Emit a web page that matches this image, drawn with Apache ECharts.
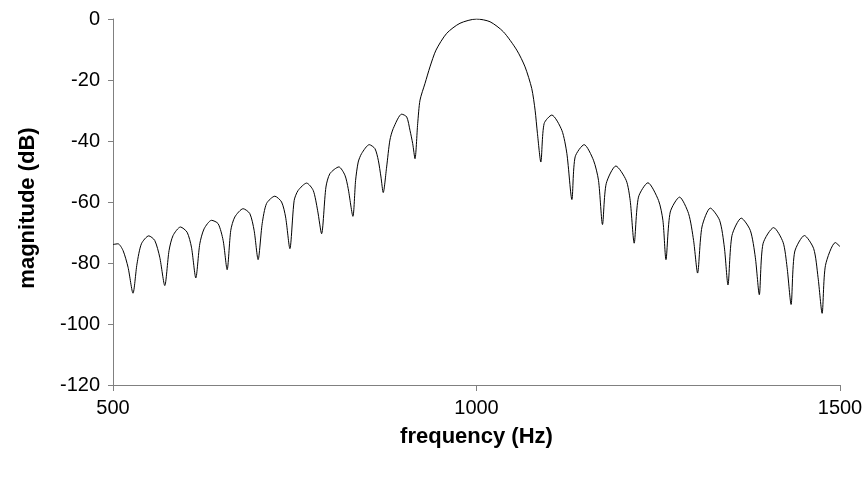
<!DOCTYPE html>
<html>
<head>
<meta charset="utf-8">
<script src="https://cdn.jsdelivr.net/npm/echarts@6/dist/echarts.min.js"></script>
<style>
html,body{margin:0;padding:0;background:#fff;}
#chart{width:867px;height:479px;}
</style>
</head>
<body>
<div id="chart"></div>
<script>
// Frequency (Hz) and magnitude (dB)
var frequency = [
  500, 501, 506.9, 513.8, 520.7, 527.5, 533, 539.1, 549.2, 557.4, 564.3, 571.2,
  577.1, 582.6, 592.8, 601.9, 607.9, 613.9, 619.4, 625.3, 635.5, 644.6, 651.5, 657,
  662, 667.6, 679, 688.2, 694.1, 699.6, 705.2, 711.2, 722.6, 731.9, 737.4, 743.3,
  749.2, 754.7, 766.3, 775.4, 781.4, 786.9, 792.9, 798.4, 810.7, 819, 823.5, 830,
  833.7, 837.3, 842, 852.5, 860.3, 864.9, 868.6, 871.7, 876.4, 880.9, 885.5, 897.1,
  904, 908.5, 912.2, 915.4, 919.1, 922.3, 929.2, 936, 944.3, 959, 977.3, 1000,
  1018.6, 1037, 1055.4, 1066.8, 1076, 1080.6, 1083.8, 1088.5, 1093, 1103.6, 1117.4, 1124.3,
  1131.2, 1135.7, 1148.1, 1160.9, 1167.8, 1173.3, 1178.4, 1191.7, 1205.9, 1211.4, 1216.9, 1222.8,
  1235.8, 1250.4, 1256.4, 1260.6, 1266.5, 1279.3, 1291.7, 1298.6, 1304.1, 1310.1, 1321.6, 1334.4,
  1340.9, 1345.9, 1351.4, 1364.2, 1376.6, 1383.5, 1389, 1394.1, 1408.7, 1421.7, 1427.2, 1432.7,
  1437.6, 1451, 1463.8, 1469.8, 1475.4, 1480, 1493.6, 1500
];
var magnitude = [
  -74.0, -73.9, -73.7, -75.9, -81.4, -89.9, -80.3, -73.7, -71.1, -72.6, -78.1, -87.4,
  -75.9, -71.0, -68.2, -69.9, -74.8, -84.9, -73.7, -68.8, -66.0, -67.1, -72.6, -82.2,
  -69.3, -64.9, -62.2, -63.8, -69.3, -78.9, -67.1, -60.5, -58.1, -60.0, -64.9, -75.3,
  -59.5, -56.2, -53.8, -56.2, -62.7, -70.4, -55.1, -50.7, -48.5, -51.2, -55.6, -64.7,
  -52.9, -46.9, -44.1, -41.2, -42.5, -46.3, -51.8, -56.9, -48.5, -39.7, -35.9, -31.2,
  -32.1, -36.5, -40.8, -45.8, -34.3, -26.6, -21.1, -15.7, -10.2, -4.7, -1.4, 0,
  -0.9, -4.2, -10.2, -15.7, -22.8, -29.9, -37.5, -46.9, -34.3, -31.5, -36.5, -44.1,
  -59.2, -45.2, -41.2, -46.3, -52.9, -67.4, -54.0, -48.2, -52.9, -59.5, -73.5, -58.4,
  -53.7, -59.5, -66.0, -78.9, -63.3, -58.4, -63.8, -72.6, -83.3, -68.2, -62.0, -66.0,
  -74.8, -87.2, -71.0, -65.3, -69.3, -78.1, -90.4, -73.7, -68.4, -73.2, -81.4, -93.6,
  -76.4, -71.0, -75.3, -84.7, -96.5, -80.8, -73.3, -74.6
];
var xTicks = [500, 1000, 1500];
var yTicks = [-120, -100, -80, -60, -40, -20, 0];

var seriesData = frequency.map(function (f, i) { return [f, magnitude[i]]; });

var chart = echarts.init(document.getElementById('chart'), null, {renderer: 'canvas'});
var axisColor = '#808080';
var font = 'Liberation Sans, Arial, Helvetica, sans-serif';
chart.setOption({
  animation: false,
  backgroundColor: '#ffffff',
  grid: {left: 113, right: 27, top: 19, bottom: 94, containLabel: false},
  xAxis: {
    type: 'value',
    min: xTicks[0],
    max: xTicks[xTicks.length - 1],
    interval: xTicks[1] - xTicks[0],
    name: 'frequency (Hz)',
    nameLocation: 'middle',
    nameGap: 41,
    nameTextStyle: {fontFamily: font, fontSize: 22, fontWeight: 'bold', color: '#000'},
    axisLine: {show: true, onZero: false, lineStyle: {color: axisColor, width: 1}},
    axisTick: {show: true, inside: false, length: 6, lineStyle: {color: axisColor}},
    axisLabel: {fontFamily: font, fontSize: 20, color: '#000', margin: 13,
      formatter: function (v) { return String(v); }},
    splitLine: {show: false}
  },
  yAxis: {
    type: 'value',
    min: yTicks[0],
    max: yTicks[yTicks.length - 1],
    interval: yTicks[1] - yTicks[0],
    name: 'magnitude (dB)',
    nameLocation: 'middle',
    nameGap: 74,
    nameRotate: 90,
    nameTextStyle: {fontFamily: font, fontSize: 22, fontWeight: 'bold', color: '#000',
      padding: [0, 12, 0, 0]},
    axisLine: {show: true, onZero: false, lineStyle: {color: axisColor, width: 1}},
    axisTick: {show: true, inside: false, length: 5, lineStyle: {color: axisColor}},
    axisLabel: {fontFamily: font, fontSize: 20, color: '#000', margin: 13,
      formatter: function (v) { return String(v); }},
    splitLine: {show: false}
  },
  series: [{
    type: 'line',
    data: seriesData,
    showSymbol: false,
    symbol: 'none',
    smooth: 0.25,
    lineStyle: {color: '#000000', width: 1},
    clip: true
  }]
});
</script>
</body>
</html>
